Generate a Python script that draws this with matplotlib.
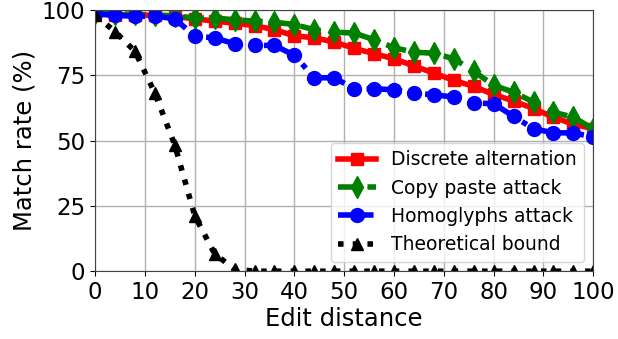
import matplotlib
matplotlib.use("Agg")
import matplotlib.pyplot as plt

x = [0, 4, 8, 12, 16, 20, 24, 28, 32, 36, 40, 44, 48, 52, 56, 60, 64, 68, 72, 76, 80, 84, 88, 92, 96, 100]
discrete = [98.5, 98.3, 98.2, 98.0, 97.5, 96.7, 95.8, 95.0, 94.1, 92.5, 90.2, 89.4, 87.8, 85.4, 83.3, 81.4, 78.6, 75.9, 73.1, 70.8, 67.7, 65.2, 62.3, 59.0, 56.3, 54.6]
copypaste = [98.8, 98.6, 98.4, 98.2, 97.8, 97.0, 97.0, 96.3, 95.8, 95.4, 94.5, 92.5, 91.6, 91.2, 88.7, 85.6, 83.9, 83.5, 81.4, 76.6, 71.2, 68.6, 64.8, 60.9, 59.0, 54.5]
homoglyphs = [98.6, 98.0, 97.7, 97.7, 96.7, 90.0, 89.4, 87.1, 86.5, 86.5, 82.7, 74.1, 74.1, 69.9, 69.9, 69.5, 68.2, 67.6, 66.7, 64.4, 64.2, 59.3, 54.6, 53.0, 53.0, 51.4]
bound = [98.0, 91.8, 84.2, 68.2, 48.2, 21.2, 6.6, 0.8, 0, 0, 0, 0, 0, 0, 0, 0, 0, 0, 0, 0, 0, 0, 0, 0, 0, 0]

fig = plt.figure(figsize=(6.18, 3.39), dpi=100)
ax = fig.add_axes([0.154, 0.2, 0.806, 0.77])

lw = 4
ax.plot(x, discrete, color="red", linestyle="-", marker="s", lw=lw, ms=9, label="Discrete alternation")
ax.plot(x, copypaste, color="green", linestyle="--", marker="d", lw=lw, ms=11, label="Copy paste attack")
ax.plot(x, homoglyphs, color="blue", linestyle="-.", marker="o", lw=lw, ms=10, label="Homoglyphs attack")
ax.plot(x, bound, color="black", linestyle=":", marker="^", lw=lw, ms=9, label="Theoretical bound")

ax.set_xlim(0, 100)
ax.set_ylim(0, 100)
ax.set_xticks(range(0, 101, 10))
ax.set_yticks([0, 25, 50, 75, 100])
ax.tick_params(labelsize=16.5)
for s in ax.spines.values():
    s.set_color("#444444")
ax.grid(True, color="#b0b0b0", linewidth=1)
ax.set_axisbelow(True)
ax.set_xlabel("Edit distance", fontsize=17.5, labelpad=2)
ax.set_ylabel("Match rate (%)", fontsize=17.5, labelpad=4)
ax.legend(loc="lower right", fontsize=13.5, handlelength=2.0, borderaxespad=0.5)

fig.savefig("out.png", dpi=100)
